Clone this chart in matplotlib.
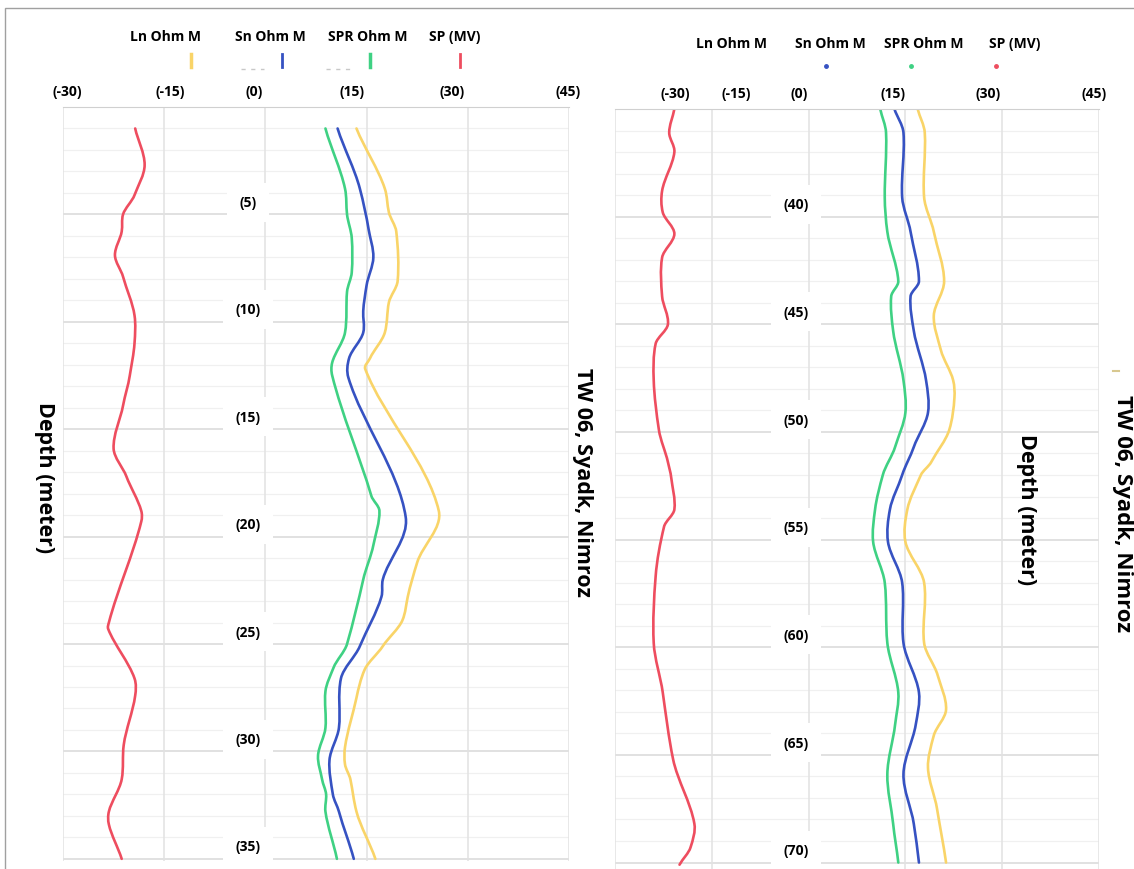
import matplotlib.pyplot as plt
from matplotlib.lines import Line2D
from matplotlib.patches import Rectangle, PathPatch
from matplotlib.path import Path

plt.rcParams['font.family'] = ['Open Sans', 'DejaVu Sans']
plt.rcParams['font.weight'] = 'bold'

# ---- data (depth in m, values on the -30..45 scale) ----
# upper section, 0-35 m
up_sp_d = [1, 2.7, 4.1, 5, 5.8, 6.9, 7.9, 9.7, 11, 12.5, 13.9, 15.9, 17.2, 18.8, 19.3,
           24, 24.3, 26.6, 27.4, 29.7, 31.3, 32.8, 33.4, 35]
up_sp = [-19.3, -17.9, -19.4, -21.1, -21.3, -22.3, -21.1, -19.4, -19.4, -20.1, -21.1, -22.5,
         -20.6, -18.4, -18.4, -23.2, -23.3, -19.4, -19.3, -21.0, -21.3, -23.2, -23.2, -21.3]

up_spr_d = [1, 3.8, 5, 6.1, 7.7, 8.6, 10.5, 11.9, 12.5, 18.1, 18.8, 20.4, 22, 25, 26.1,
            27.2, 28.9, 30.2, 31.3, 32, 32.8, 35]
up_spr = [8.9, 11.8, 12.1, 12.8, 12.8, 12.1, 11.8, 9.9, 9.9, 15.7, 16.9, 16.0, 14.5, 12.1,
          10.1, 8.9, 8.9, 7.8, 8.4, 9.0, 8.9, 10.6]

up_sn_d = [1, 3.8, 5.7, 7, 8.3, 9.5, 10.5, 11.7, 12.6, 19.1, 22, 22.8, 25.1, 26.6, 28.9,
           30.4, 32, 32.8, 35]
up_sn = [10.7, 14.0, 15.3, 16.0, 15.0, 14.5, 14.5, 12.4, 12.3, 20.8, 17.4, 17.2, 14.0, 11.2,
         10.9, 9.5, 10.0, 10.9, 13.1]

up_ln_d = [1, 3.8, 4.9, 5.8, 8.1, 9.1, 10.5, 11.7, 12.2, 18.8, 21.2, 22.8, 23.9, 25.1, 26.2,
           27.5, 29.8, 30.6, 31.3, 32.8, 35]
up_ln = [13.5, 17.7, 18.3, 19.4, 19.6, 18.3, 17.7, 15.5, 14.8, 25.7, 22.5, 21.1, 20.3, 17.4,
         14.7, 13.5, 11.8, 11.8, 12.6, 13.5, 16.3]

# lower section, 35-70 m
lo_sp_d = [35, 36.1, 37, 38.8, 39.8, 40.8, 41.9, 43.7, 45, 45.9, 47.6, 49.9, 51.4, 52.1,
           53.6, 54.4, 56.7, 59.8, 62.1, 65.2, 68.2, 69.3, 70.1]
lo_sp = [-20.8, -21.6, -20.8, -22.7, -22.6, -20.8, -22.7, -22.7, -21.8, -23.7, -24.0, -23.2,
         -21.8, -21.3, -20.8, -22.4, -23.7, -24.0, -22.6, -21.0, -17.7, -18.3, -20.0]

lo_d = [35, 36.1, 39.1, 40.7, 43, 43.7, 45.3, 47.6, 49.1, 50.7, 52, 53.6, 55.1, 57, 59.8,
        62.1, 63.6, 65.9, 68.2, 70]
lo_spr = [11.1, 12.0, 11.8, 12.2, 13.9, 12.8, 13.1, 14.7, 15.0, 13.4, 11.5, 10.3, 10.0, 11.8,
          12.2, 13.9, 13.4, 12.2, 13.1, 13.9]
lo_sn = [13.3, 14.7, 14.5, 15.8, 17.1, 15.8, 16.3, 18.2, 18.5, 16.3, 14.5, 12.6, 12.3, 14.5,
         14.7, 17.1, 16.6, 14.7, 16.3, 17.1]

lo_ln_d = [35, 36.1, 39.1, 40.7, 43, 44.6, 46.2, 47.6, 48.4, 49.9, 51.4, 52, 53.6, 55.1, 57,
           59.8, 61.3, 62.9, 64.1, 65.6, 67.5, 70]
lo_ln = [16.9, 18.0, 17.9, 19.4, 21.0, 19.4, 20.5, 22.4, 22.6, 21.8, 19.0, 17.4, 15.3, 15.0,
         17.9, 17.9, 20.0, 21.3, 19.4, 18.5, 19.9, 21.3]

x_ticks = [-30, -15, 0, 15, 30, 45]
series_names = ['Ln Ohm M', 'Sn Ohm M', 'SPR Ohm M', 'SP (MV)']
colors = {'SP': '#ee4d5f', 'SPR': '#3fd183', 'Sn': '#3652c2', 'Ln': '#f9d468'}

fig = plt.figure(figsize=(11.34, 8.7), dpi=100)
W, H = 1134, 870

# thin frame of the picture
fig.add_artist(Rectangle((5 / W, -0.01), 1.2, 1 - 9 / H + 0.01, transform=fig.transFigure,
                         fill=False, edgecolor='#a0a0a0', lw=1))

ax1 = fig.add_axes([63 / W, 1 - 862 / H, 506 / W, (862 - 108) / H])
ax2 = fig.add_axes([615 / W, 0.0, 484 / W, 1 - 110 / H])


def style(ax, d0, d1, ylim, xlabel_pos, ylabel_x):
    ax.set_xlim(-30, 45)
    ax.set_ylim(*ylim)
    for d in range(d0, d1 + 1):
        major = d % 5 == 0
        ax.axhline(d, color='#dcdcdc' if major else '#f0f0f0', lw=1.2 if major else 0.9, zorder=0)
    for x in x_ticks:
        ax.axvline(x, color='#e2e2e2', lw=1.1, zorder=0)
    for s in ['left', 'right', 'bottom']:
        ax.spines[s].set_visible(False)
    ax.spines['top'].set_color('#d0d0d0')
    ax.set_xticks([])
    ax.set_yticks([])
    # x scale labels above the plot (slightly offset as in the original)
    for x, pos in zip(x_ticks, xlabel_pos):
        ax.text(pos, 1.012, '(%d)' % x, transform=ax.get_xaxis_transform(),
                ha='center', va='bottom', fontsize=10, fontweight='bold', clip_on=False)
    # depth labels in the middle of the track
    for d in range((d0 // 5 + 1) * 5, d1 + 1, 5):
        ax.text(ylabel_x, d - 0.25, '(%d)' % d, ha='center', va='bottom', fontsize=10,
                fontweight='bold', zorder=3, clip_on=False,
                bbox=dict(boxstyle='square,pad=0.9', fc='white', ec='none'))


def smooth_line(ax, xs, ds, color):
    # smoothed curve through the read points, parameterised by depth (no loops)
    n = len(xs)
    slope = []
    for i in range(n):
        a, b = max(i - 1, 0), min(i + 1, n - 1)
        slope.append(0.85 * (xs[b] - xs[a]) / (ds[b] - ds[a]))
    verts, codes = [(xs[0], ds[0])], [Path.MOVETO]
    for i in range(n - 1):
        h = ds[i + 1] - ds[i]
        verts += [(xs[i] + slope[i] * h / 3, ds[i] + h / 3),
                  (xs[i + 1] - slope[i + 1] * h / 3, ds[i + 1] - h / 3),
                  (xs[i + 1], ds[i + 1])]
        codes += [Path.CURVE4] * 3
    ax.add_patch(PathPatch(Path(verts, codes), fill=False, edgecolor=color, lw=1.9,
                           capstyle='round', joinstyle='round', zorder=2))


style(ax1, 0, 35, (35.1, 0), [-29.4, -14.1, -1.7, 12.8, 27.7, 44.9], -2.6)
style(ax2, 35, 70, (70.3, 35), [-20.6, -11.2, -1.5, 13.1, 27.8, 44.2], -2.0)

smooth_line(ax1, up_sp, up_sp_d, colors['SP'])
smooth_line(ax1, up_spr, up_spr_d, colors['SPR'])
smooth_line(ax1, up_sn, up_sn_d, colors['Sn'])
smooth_line(ax1, up_ln, up_ln_d, colors['Ln'])

smooth_line(ax2, lo_sp, lo_sp_d, colors['SP'])
smooth_line(ax2, lo_spr, lo_d, colors['SPR'])
smooth_line(ax2, lo_sn, lo_d, colors['Sn'])
smooth_line(ax2, lo_ln, lo_ln_d, colors['Ln'])

# legends (rotated chart, so the keys are small vertical dashes)
for name, tx in zip(series_names, [165, 270, 368, 455]):
    fig.text(tx / W, 1 - 37 / H, name, ha='center', va='center', fontsize=10, fontweight='bold')
for key, kx in zip(['Ln', 'Sn', 'SPR', 'SP'], [191, 282, 370, 460]):
    fig.add_artist(Line2D([kx / W, kx / W], [1 - 55 / H, 1 - 68 / H], transform=fig.transFigure,
                          color=colors[key], lw=2.5 if key not in ('Sn', 'SP') else 2))
for x0, x1 in [(241, 264), (326, 352)]:
    fig.add_artist(Line2D([x0 / W, x1 / W], [1 - 70 / H, 1 - 70 / H], transform=fig.transFigure,
                          color='#c8c8c8', lw=1, ls=(0, (3, 4))))
for name, tx in zip(series_names, [731, 830, 924, 1015]):
    fig.text(tx / W, 1 - 44 / H, name, ha='center', va='center', fontsize=10, fontweight='bold')
for key, kx in zip(['Sn', 'SPR', 'SP'], [826, 911, 996]):
    fig.add_artist(Line2D([kx / W], [1 - 67 / H], transform=fig.transFigure, marker='o',
                          ms=2.5, color=colors[key], lw=0))
fig.add_artist(Line2D([1113 / W, 1119 / W], [1 - 372 / H, 1 - 372 / H], transform=fig.transFigure,
                      color='#d8c890', lw=1.5))

# axis titles, written down the side
fig.text(44 / W, 1 - 478 / H, 'Depth (meter)', rotation=-90, ha='center', va='center',
         fontsize=15.5, fontweight='bold')
fig.text(582 / W, 1 - 482 / H, 'TW 06, Syadk, Nimroz', rotation=-90, ha='center', va='center',
         fontsize=15.5, fontweight='bold')
fig.text(1026 / W, 1 - 510 / H, 'Depth (meter)', rotation=-90, ha='center', va='center',
         fontsize=15.5, fontweight='bold')
fig.text(1123 / W, 1 - 514 / H, 'TW 06, Syadk, Nimroz', rotation=-90, ha='center', va='center',
         fontsize=16, fontweight='bold')

fig.savefig('out.png', dpi=100, facecolor='white')
